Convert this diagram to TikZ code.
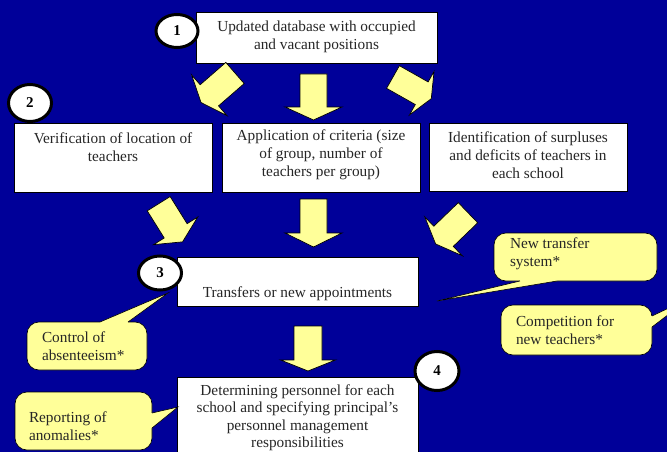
\documentclass[tikz,border=0pt]{standalone}
\usepackage{fontspec}
\setmainfont{Liberation Serif}
\usetikzlibrary{shapes.geometric}
\definecolor{bg}{HTML}{000099}
\definecolor{ylw}{HTML}{FFFF99}
\tikzset{pics/barrow/.style args={#1/#2/#3/#4}{code={
  \path[barr] (0,-#1) -- (#2,-#1) -- (#2,-#3) -- ({#2+#4},0) -- (#2,#3) -- (#2,#1) -- (0,#1) -- cycle;}}}
\begin{document}
\begin{tikzpicture}[x=1pt,y=-1pt,
  every node/.style={inner sep=0pt, outer sep=0pt},
  wbox/.style={draw=black, line width=0.8pt, fill=white, anchor=north west},
  txt/.style={font=\fontsize{15.3}{18}\selectfont, align=center, text=black!85},
  ctxt/.style={font=\fontsize{15.3}{18}\selectfont, align=left, anchor=west, text=black!85},
  num/.style={ellipse, draw=black, line width=3pt, fill=white, font=\bfseries\fontsize{15}{15}\selectfont},
  callbox/.style={draw=black, line width=0.6pt, fill=ylw, rounded corners=12pt, anchor=north west},
  cline/.style={draw=black, line width=0.6pt},
  barr/.style={draw=black, line width=0.7pt, fill=ylw, line join=miter}]
\fill[bg] (0,0) rectangle (667,452);
\useasboundingbox (0,0) rectangle (667,452);

% boxes
\node[wbox, minimum width=241pt, minimum height=51pt] (b1) at (196,12) {};
\node[wbox, minimum width=198pt, minimum height=69pt] (b2) at (14,123) {};
\node[wbox, minimum width=198pt, minimum height=69pt] (b3) at (222,123) {};
\node[wbox, minimum width=198pt, minimum height=68pt] (b4) at (429,123) {};
\node[wbox, minimum width=241pt, minimum height=49pt] (b5) at (177,257) {};
\node[wbox, minimum width=241pt, minimum height=95pt] (b6) at (177,377) {};

\node[txt] (t1) at (316.5,37) {Updated database with occupied\\and vacant positions};
\node[txt] (t2) at (113,147) {Verification of location of\\teachers};
\node[txt] (t3) at (321,155) {Application of criteria (size\\of group, number of\\teachers per group)};
\node[txt] (t4) at (528,155) {Identification of surpluses\\and deficits of teachers in\\each school};
\node[txt] (t5) at (297.5,293.5) {Transfers or new appointments};
\node[txt, font=\fontsize{15.3}{17.5}\selectfont] (t6) at (297.5,417.5) {Determining personnel for each\\school and specifying principal’s\\personnel management\\responsibilities};

% block arrows
\pic[rotate=221] (a1) at (235,73) {barrow=14/34/27/11};
\pic[rotate=270] (a2) at (313.5,74) {barrow=13.5/33/28.5/13};
\pic[rotate=-29.5] (a3) at (393,77) {barrow=13/33/25/11};
\pic[rotate=-58] (a4) at (158.7,203.7) {barrow=13.5/32/26/13};
\pic[rotate=270] (a5) at (313.5,199) {barrow=13.5/34/28.5/14};
\pic[rotate=224] (a6) at (468,212.7) {barrow=14/34/27/11};
\pic[rotate=270] (a7) at (308,326) {barrow=14/34/27.5/11};

% callouts
\coordinate (p1) at (437,301);
\coordinate (p2) at (690,298);
\coordinate (p3) at (168,293);
\coordinate (p4) at (178,407);

\node[callbox, minimum width=163pt, minimum height=48pt] (c1) at (494,233) {};
\fill[ylw] (520,277) -- (520,281) -- (p1) -- (557,281) -- (557,277) -- cycle;
\draw[cline] (520,281) -- (p1) -- (557,281);
\node[ctxt] (ct1) at (510,254) {New transfer\\system*};

\node[callbox, minimum width=151pt, minimum height=50pt] (c2) at (501,305) {};
\fill[ylw] (648,316) -- (652,316) -- (p2) -- (652,327) -- (648,327) -- cycle;
\draw[cline] (652,316) -- (p2) -- (652,327);
\node[ctxt] (ct2) at (516,330) {Competition for\\new teachers*};

\node[callbox, minimum width=120pt, minimum height=48pt] (c3) at (27,322) {};
\fill[ylw] (100,326) -- (100,322) -- (p3) -- (128,322) -- (128,326) -- cycle;
\draw[cline] (100,322) -- (p3) -- (128,322);
\node[ctxt] (ct3) at (42,346) {Control of\\absenteeism*};

\node[callbox, minimum width=137pt, minimum height=58pt] (c4) at (15,392) {};
\fill[ylw] (148,413) -- (152,413) -- (p4) -- (152,428) -- (148,428) -- cycle;
\draw[cline] (152,413) -- (p4) -- (152,428);
\node[ctxt] (ct4) at (29,426) {Reporting of\\anomalies*};

% number circles
\node[num, minimum width=42pt, minimum height=33pt] (n1) at (177,31) {1};
\node[num, minimum width=43pt, minimum height=37pt] (n2) at (30,103) {2};
\node[num, minimum width=43pt, minimum height=34pt] (n3) at (160,273) {3};
\node[num, minimum width=44pt, minimum height=39pt] (n4) at (437,371) {4};
\end{tikzpicture}
\end{document}
